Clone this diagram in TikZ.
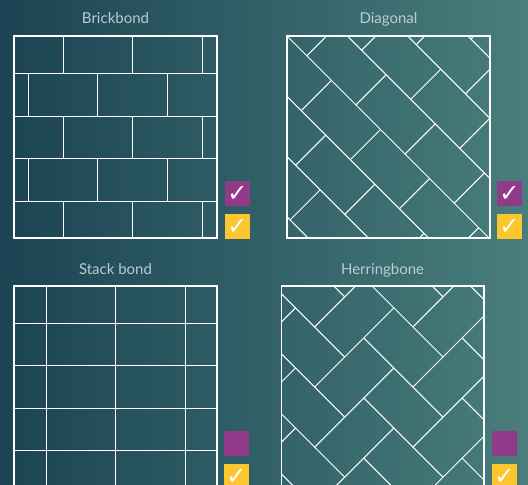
\documentclass[tikz,border=0pt]{standalone}
\usepackage{fontspec}
\setmainfont{Lato}
\newfontfamily\tickfont{DejaVu Sans}
\usetikzlibrary{positioning,calc}
\definecolor{BgDark}{RGB}{27,67,83}
\definecolor{BgLight}{RGB}{73,126,124}
\definecolor{TitleGray}{RGB}{188,204,208}
\definecolor{TickPurple}{RGB}{146,58,138}
\definecolor{TickYellow}{RGB}{252,198,46}
\tikzset{
  joint/.style={draw=white,line width=1pt},
  frame/.style={draw=white,line width=1.2pt},
  title/.style={anchor=base,inner sep=0pt,text=TitleGray,font=\fontsize{15}{17}\selectfont},
}
\tikzset{tickbox/.style={minimum size=25pt,inner sep=0pt,text=white,font=\tickfont\fontsize{24}{24}\selectfont}, purplebox/.style={tickbox,fill=TickPurple}, yellowbox/.style={tickbox,fill=TickYellow}}

\begin{document}
\begin{tikzpicture}[x=1pt,y=-1pt]
\useasboundingbox (0,0) rectangle (528,485);
\shade[left color=BgDark,right color=BgLight] (0,0) rectangle (528,485);

\node[title] (brickTitle) at (115.5,23.5) {Brickbond};
\node[title] (diagTitle) at (388.5,23.5) {Diagonal};
\node[title] (stackTitle) at (115.5,274) {Stack bond};
\node[title] (herrTitle) at (382.6,274) {Herringbone};

% brickbond
\coordinate (brickNW) at (14,36);
\coordinate (brickSE) at (217,238);
\foreach \y in {73.5,116,158.5,201}
  \draw[joint] (14,\y) -- (217,\y);
\foreach \ya/\yb/\dx in {36/73.5/0,73.5/116/-34.75,116/158.5/0,158.5/201/-34.75,201/238/0}
  \foreach \x in {63,132.5,202}
    \draw[joint] ({\x+\dx},\ya) -- ({\x+\dx},\yb);
\draw[frame] (brickNW) rectangle (brickSE);

% diagonal
\coordinate (diagNW) at (287,36);
\coordinate (diagSE) at (490,238);
\begin{scope}[shift={(287,36)}]
\clip (0,0) rectangle (203,202);
\foreach \k in {-4,...,4}
  \draw[joint] ({60.3*\k-10},-10) -- ({60.3*\k+220},220);
\foreach \k in {-4,...,3}
  \foreach \m in {-3,...,5}{
    \pgfmathsetmacro\cxy{39.7+49.1*(\k+2*\m)}
    \pgfmathsetmacro\dlo{60.3*\k}
    \pgfmathsetmacro\dhi{60.3*(\k+1)}
    \draw[joint] ({(\cxy+\dlo)/2},{(\cxy-\dlo)/2}) -- ({(\cxy+\dhi)/2},{(\cxy-\dhi)/2});
  }
\end{scope}
\draw[frame] (diagNW) rectangle (diagSE);

% stack bond
\coordinate (stackNW) at (14,286);
\coordinate (stackSE) at (217,488);
\foreach \y in {323,365.6,408.1,450.7}
  \draw[joint] (14,\y) -- (217,\y);
\foreach \x in {46,115.5,185}
  \draw[joint] (\x,286) -- (\x,488);
\draw[frame] (stackNW) rectangle (stackSE);

% herringbone
\coordinate (herrNW) at (281.3,286);
\coordinate (herrSE) at (484,488);
\begin{scope}[shift={(281.3,286)}]
\clip (0,0) rectangle (202.7,202);
\foreach \m in {-1,...,2}
  \foreach \n in {-2,...,4}{
    \pgfmathsetmacro\hx{63.4+98.3*\m}
    \pgfmathsetmacro\hy{71+60.1*\n}
    \draw[joint] ({\hx-79.2},{\hy-79.2}) -- (\hx,\hy);
    \draw[joint] ({\hx-30.05},{\hy+30.05}) -- ({\hx+49.14},{\hy-49.14});
  }
\end{scope}
\draw[frame] (herrNW) rectangle (herrSE);

% ticks
\node[purplebox] (brickP) at (237.5,193.5) {✓};
\node[yellowbox] (brickY) at (237.5,226.5) {✓};
\node[purplebox] (diagP) at (509.5,193.5) {✓};
\node[yellowbox] (diagY) at (509.5,226.5) {✓};
\node[purplebox] (stackP) at (236.5,443.5) {};
\node[yellowbox] (stackY) at (236.5,476.5) {✓};
\node[purplebox] (herrP) at (504.5,443.5) {};
\node[yellowbox] (herrY) at (504.5,476.5) {✓};
\end{tikzpicture}
\end{document}
